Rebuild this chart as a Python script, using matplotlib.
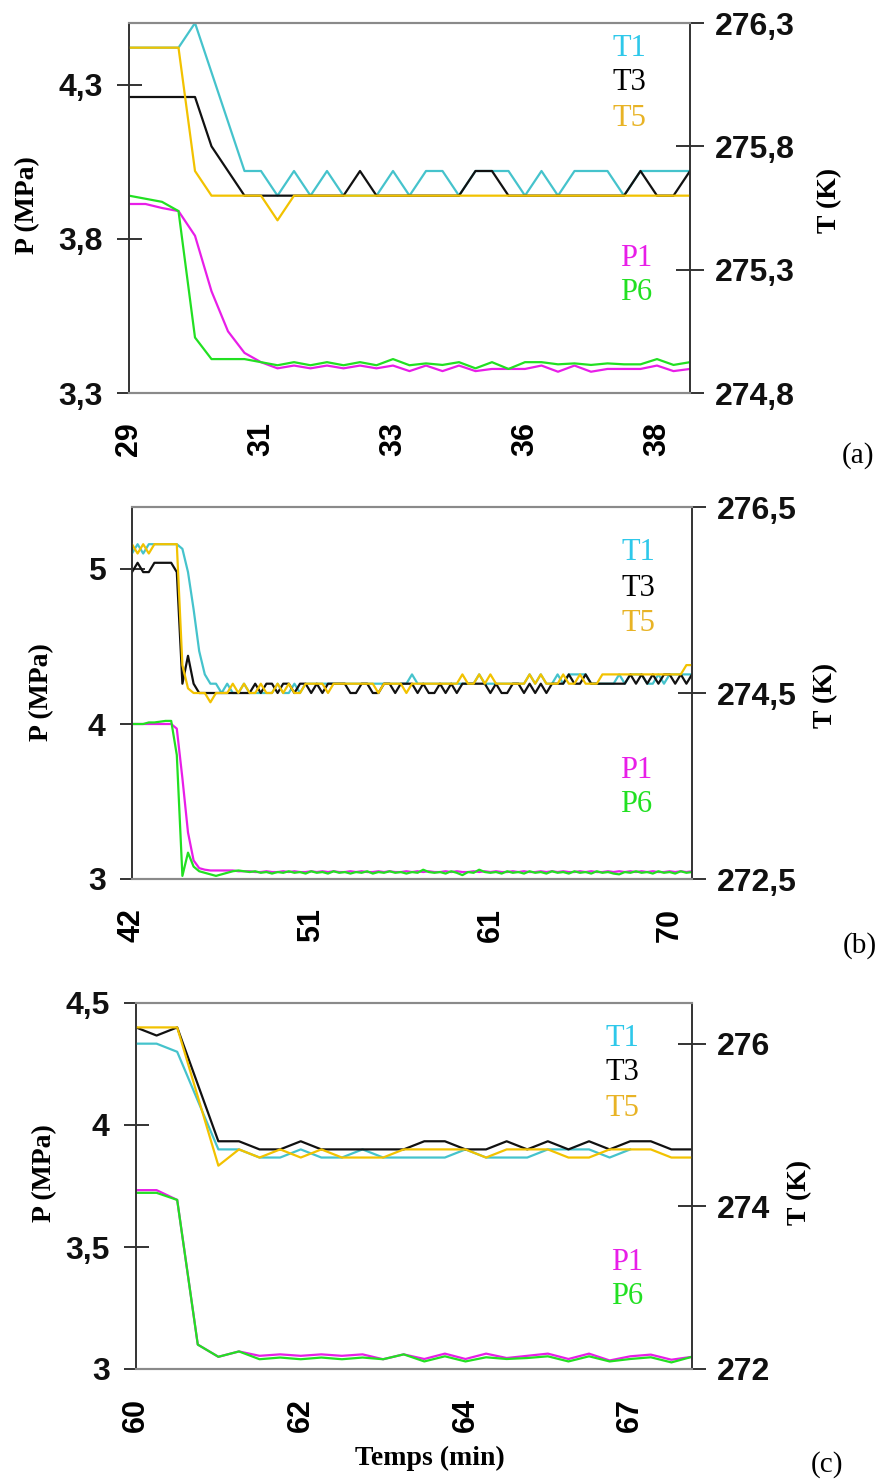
import matplotlib
matplotlib.use('Agg')
import matplotlib.pyplot as plt
from matplotlib.ticker import FuncFormatter

# ---------------- données (a) ----------------
T1_a = [276.2, 276.2, 276.2, 276.2, 276.3, 276.1, 275.9, 275.7, 275.7, 275.6,
        275.7, 275.6, 275.7, 275.6, 275.6, 275.6, 275.7, 275.6, 275.7, 275.7,
        275.6, 275.7, 275.7, 275.7, 275.6, 275.7, 275.6, 275.7, 275.7, 275.7,
        275.6, 275.7, 275.7, 275.7, 275.7]
T3_a = [276.0, 276.0, 276.0, 276.0, 276.0, 275.8, 275.7, 275.6, 275.6, 275.6,
        275.6, 275.6, 275.6, 275.6, 275.7, 275.6, 275.6, 275.6, 275.6, 275.6,
        275.6, 275.7, 275.7, 275.6, 275.6, 275.6, 275.6, 275.6, 275.6, 275.6,
        275.6, 275.7, 275.6, 275.6, 275.7]
T5_a = [276.2, 276.2, 276.2, 276.2, 275.7, 275.6, 275.6, 275.6, 275.6, 275.5,
        275.6, 275.6, 275.6, 275.6, 275.6, 275.6, 275.6, 275.6, 275.6, 275.6,
        275.6, 275.6, 275.6, 275.6, 275.6, 275.6, 275.6, 275.6, 275.6, 275.6,
        275.6, 275.6, 275.6, 275.6, 275.6]
P1_a = [3.913, 3.913, 3.90, 3.89, 3.81, 3.63, 3.50, 3.43, 3.40, 3.38,
        3.389, 3.38, 3.389, 3.38, 3.389, 3.38, 3.389, 3.371, 3.389, 3.371,
        3.389, 3.371, 3.378, 3.378, 3.378, 3.389, 3.369, 3.389, 3.369, 3.378,
        3.378, 3.378, 3.389, 3.371, 3.378]
P6_a = [3.94, 3.93, 3.92, 3.89, 3.48, 3.41, 3.41, 3.41, 3.40, 3.39,
        3.40, 3.39, 3.40, 3.39, 3.40, 3.39, 3.41, 3.39, 3.396, 3.391,
        3.40, 3.38, 3.40, 3.378, 3.40, 3.40, 3.393, 3.396, 3.391, 3.396,
        3.393, 3.393, 3.41, 3.391, 3.40]
xt_a = [0, 8, 16, 24, 32]
xl_a = ['29', '31', '33', '36', '38']

# ---------------- données (b) ----------------
T1_b = [276.0, 276.1, 276.0, 276.1, 276.1, 276.1, 276.1, 276.1, 276.1, 276.05,
        275.8, 275.4, 274.95, 274.7, 274.6, 274.6, 274.5, 274.6, 274.5, 274.5,
        274.6, 274.5, 274.5, 274.5, 274.5, 274.5, 274.6, 274.5, 274.5, 274.6,
        274.5, 274.6, 274.6, 274.6, 274.6, 274.6, 274.6, 274.6, 274.6, 274.6,
        274.6, 274.6, 274.6, 274.6, 274.6, 274.6, 274.6, 274.6, 274.6, 274.6,
        274.7, 274.6, 274.6, 274.6, 274.6, 274.6, 274.6, 274.6, 274.6, 274.6,
        274.6, 274.6, 274.7, 274.6, 274.6, 274.6, 274.6, 274.6, 274.6, 274.6,
        274.6, 274.7, 274.6, 274.7, 274.6, 274.6, 274.7, 274.6, 274.7, 274.7,
        274.7, 274.7, 274.6, 274.6, 274.6, 274.6, 274.6, 274.7, 274.6, 274.7,
        274.7, 274.7, 274.6, 274.6, 274.7, 274.6, 274.7, 274.7, 274.7, 274.7,
        274.7]
T3_b = [275.8, 275.9, 275.8, 275.8, 275.9, 275.9, 275.9, 275.9, 275.8, 274.6,
        274.9, 274.6, 274.5, 274.5, 274.5, 274.5, 274.5, 274.5, 274.5, 274.5,
        274.5, 274.5, 274.6, 274.5, 274.6, 274.6, 274.5, 274.6, 274.6, 274.5,
        274.6, 274.6, 274.5, 274.6, 274.5, 274.6, 274.6, 274.6, 274.6, 274.5,
        274.5, 274.6, 274.6, 274.5, 274.5, 274.6, 274.6, 274.5, 274.6, 274.6,
        274.6, 274.5, 274.6, 274.5, 274.5, 274.6, 274.5, 274.6, 274.5, 274.6,
        274.6, 274.6, 274.6, 274.6, 274.5, 274.6, 274.5, 274.5, 274.6, 274.6,
        274.5, 274.6, 274.5, 274.6, 274.5, 274.6, 274.6, 274.6, 274.7, 274.6,
        274.6, 274.7, 274.6, 274.6, 274.6, 274.6, 274.6, 274.6, 274.6, 274.7,
        274.6, 274.7, 274.6, 274.7, 274.6, 274.7, 274.7, 274.6, 274.7, 274.6,
        274.7]
T5_b = [276.1, 276.0, 276.1, 276.0, 276.1, 276.1, 276.1, 276.1, 276.1, 274.8,
        274.55, 274.5, 274.5, 274.5, 274.4, 274.5, 274.5, 274.5, 274.6, 274.5,
        274.6, 274.5, 274.5, 274.6, 274.5, 274.5, 274.6, 274.5, 274.6, 274.5,
        274.5, 274.6, 274.6, 274.6, 274.6, 274.5, 274.6, 274.6, 274.6, 274.6,
        274.6, 274.6, 274.6, 274.6, 274.5, 274.6, 274.6, 274.6, 274.6, 274.5,
        274.6, 274.6, 274.6, 274.6, 274.6, 274.6, 274.6, 274.6, 274.6, 274.7,
        274.6, 274.6, 274.7, 274.6, 274.7, 274.6, 274.6, 274.6, 274.6, 274.6,
        274.6, 274.7, 274.6, 274.7, 274.6, 274.6, 274.6, 274.7, 274.6, 274.6,
        274.7, 274.6, 274.6, 274.6, 274.7, 274.7, 274.7, 274.7, 274.7, 274.7,
        274.7, 274.7, 274.7, 274.7, 274.7, 274.7, 274.7, 274.7, 274.7, 274.8,
        274.8]
P1_b = [4.00, 4.00, 4.00, 4.00, 4.00, 4.00, 4.00, 4.00, 3.97, 3.65,
        3.30, 3.12, 3.07, 3.06, 3.055, 3.055, 3.055, 3.055, 3.055, 3.05,
        3.05, 3.05, 3.045, 3.045, 3.05, 3.045, 3.045, 3.05, 3.045, 3.05,
        3.045, 3.045, 3.05, 3.045, 3.05, 3.045, 3.05, 3.045, 3.045, 3.05,
        3.045, 3.05, 3.045, 3.045, 3.05, 3.045, 3.05, 3.045, 3.045, 3.05,
        3.045, 3.05, 3.045, 3.05, 3.045, 3.045, 3.05, 3.045, 3.05, 3.045,
        3.045, 3.05, 3.045, 3.05, 3.045, 3.05, 3.045, 3.045, 3.05, 3.045,
        3.05, 3.045, 3.045, 3.05, 3.045, 3.05, 3.045, 3.05, 3.045, 3.045,
        3.05, 3.045, 3.05, 3.045, 3.045, 3.05, 3.045, 3.05, 3.045, 3.05,
        3.045, 3.05, 3.045, 3.05, 3.045, 3.045, 3.05, 3.045, 3.05, 3.045,
        3.05]
P6_b = [4.00, 4.00, 4.00, 4.01, 4.01, 4.015, 4.02, 4.02, 3.80, 3.02,
        3.17, 3.08, 3.05, 3.04, 3.03, 3.02, 3.03, 3.04, 3.05, 3.055,
        3.05, 3.045, 3.05, 3.04, 3.045, 3.035, 3.045, 3.04, 3.05, 3.04,
        3.045, 3.035, 3.05, 3.04, 3.045, 3.035, 3.05, 3.04, 3.045, 3.035,
        3.045, 3.04, 3.05, 3.035, 3.045, 3.04, 3.05, 3.04, 3.045, 3.035,
        3.045, 3.04, 3.06, 3.045, 3.04, 3.045, 3.035, 3.05, 3.04, 3.025,
        3.045, 3.04, 3.06, 3.045, 3.04, 3.045, 3.035, 3.05, 3.04, 3.045,
        3.035, 3.05, 3.04, 3.045, 3.035, 3.05, 3.04, 3.045, 3.035, 3.05,
        3.04, 3.045, 3.035, 3.05, 3.04, 3.045, 3.035, 3.03, 3.045, 3.04,
        3.05, 3.04, 3.045, 3.035, 3.05, 3.04, 3.045, 3.035, 3.05, 3.04,
        3.045]
xt_b = [0, 32, 64, 96]
xl_b = ['42', '51', '61', '70']

# ---------------- données (c) ----------------
T1_c = [276.0, 276.0, 275.9, 275.3, 274.7, 274.7, 274.6, 274.6, 274.7, 274.6,
        274.6, 274.7, 274.6, 274.6, 274.6, 274.6, 274.7, 274.6, 274.6, 274.6,
        274.7, 274.7, 274.7, 274.6, 274.7]
T3_c = [276.2, 276.1, 276.2, 275.5, 274.8, 274.8, 274.7, 274.7, 274.8, 274.7,
        274.7, 274.7, 274.7, 274.7, 274.8, 274.8, 274.7, 274.7, 274.8, 274.7,
        274.8, 274.7, 274.8, 274.7, 274.8, 274.8, 274.7, 274.7]
T5_c = [276.2, 276.2, 276.2, 275.35, 274.5, 274.7, 274.6, 274.7, 274.6, 274.7,
        274.6, 274.6, 274.6, 274.7, 274.7, 274.7, 274.7, 274.6, 274.7, 274.7,
        274.7, 274.6, 274.6, 274.7, 274.7, 274.7, 274.6, 274.6]
P1_c = [3.733, 3.733, 3.693, 3.10, 3.05, 3.072, 3.054, 3.06, 3.054, 3.06,
        3.054, 3.06, 3.04, 3.06, 3.041, 3.063, 3.041, 3.063, 3.045, 3.054,
        3.063, 3.041, 3.063, 3.035, 3.052, 3.059, 3.038, 3.05]
P6_c = [3.722, 3.722, 3.693, 3.10, 3.05, 3.072, 3.04, 3.047, 3.04, 3.047,
        3.04, 3.047, 3.04, 3.06, 3.031, 3.052, 3.031, 3.048, 3.041, 3.045,
        3.052, 3.031, 3.052, 3.031, 3.041, 3.048, 3.027, 3.05]
xt_c = [0, 8, 16, 24]
xl_c = ['60', '62', '64', '67']

# couleurs
c_T1, c_T3, c_T5 = '#45c3cc', '#111111', '#f2c200'
c_P1, c_P6 = '#e81ee8', '#22e022'
tc_T1, tc_T5 = '#2ec8ea', '#e8b325'

W, H = 881, 1483
fig = plt.figure(figsize=(W / 100, H / 100), dpi=100)

NUM = 'Liberation Sans'
SER = 'Liberation Serif'
comma = FuncFormatter(lambda v, p: f'{v:g}'.replace('.', ','))


def rect(l, t, r, b):
    return [l / W, 1 - b / H, (r - l) / W, (b - t) / H]


def put(x, y, s, **kw):
    fig.text(x / W, 1 - y / H, s, **kw)


def panel(box, T1, T3, T5, P1, P6, plim, tlim, pticks, tticks, xt, xl, lab):
    ax = fig.add_axes(rect(*box))
    ax2 = ax.twinx()
    n = max(len(T3), len(P1))
    ax.plot(range(len(P1)), P1, color=c_P1, lw=1.6)
    ax.plot(range(len(P6)), P6, color=c_P6, lw=1.6)
    ax2.plot(range(len(T1)), T1, color=c_T1, lw=1.6)
    ax2.plot(range(len(T3)), T3, color=c_T3, lw=1.6)
    ax2.plot(range(len(T5)), T5, color=c_T5, lw=1.6)
    ax.set_xlim(0, n - 1)
    ax.set_ylim(*plim)
    ax2.set_ylim(*tlim)
    ax.set_yticks(pticks)
    ax2.set_yticks(tticks)
    ax.yaxis.set_major_formatter(comma)
    ax2.yaxis.set_major_formatter(comma)
    ax.set_xticks(xt)
    ax.set_xticklabels(xl, rotation=90, fontfamily=NUM, fontsize=22,
                       fontweight='bold')
    ax.tick_params(axis='x', length=0, pad=21)
    ax.tick_params(axis='y', direction='inout', length=18, width=1.2,
                   pad=10, labelsize=23, colors='#111111')
    ax2.tick_params(axis='y', direction='inout', length=20, width=1.2,
                    pad=8, labelsize=23, colors='#111111')
    for a in (ax, ax2):
        for t in a.get_yticklabels():
            t.set_fontfamily(NUM)
            t.set_fontweight('bold')
        for side in ('top', 'bottom'):
            a.spines[side].set_color('#8a8a8a')
            a.spines[side].set_linewidth(1.5)
        for side in ('left', 'right'):
            a.spines[side].set_color('#333333')
            a.spines[side].set_linewidth(1.2)
    # étiquettes des courbes
    (tx, ty), (px_, py) = lab
    for k, (s, c) in enumerate([('T1', tc_T1), ('T3', 'black'), ('T5', tc_T5)]):
        put(tx, ty + 35 * k, s, color=c, fontfamily=SER, fontsize=22,
            ha='center', va='center')
    for k, (s, c) in enumerate([('P1', c_P1), ('P6', c_P6)]):
        put(px_, py + 34 * k, s, color=c, fontfamily=SER, fontsize=22,
            ha='center', va='center')
    return ax, ax2


panel((129, 23, 690, 393), T1_a, T3_a, T5_a, P1_a, P6_a, (3.3, 4.5), (274.8, 276.3),
      [3.3, 3.8, 4.3], [274.8, 275.3, 275.8, 276.3], xt_a, xl_a,
      ((629, 48), (636, 258)))
panel((132, 507, 692, 879), T1_b, T3_b, T5_b, P1_b, P6_b, (3.0, 5.4), (272.5, 276.5),
      [3, 4, 5], [272.5, 274.5, 276.5], xt_b, xl_b,
      ((638, 553), (636, 771)))
panel((136, 1003, 692, 1369), T1_c, T3_c, T5_c, P1_c, P6_c, (3.0, 4.5), (272.0, 276.5),
      [3, 3.5, 4, 4.5], [272, 274, 276], xt_c, xl_c,
      ((622, 1038), (627, 1262)))

# titres d'axes
lab_kw = dict(fontfamily=SER, fontweight='bold', fontsize=20, rotation=90,
              ha='center', va='center')
put(28, 205, 'P (MPa)', **lab_kw)
put(42, 692, 'P (MPa)', **lab_kw)
put(45, 1173, 'P (MPa)', **lab_kw)
put(830, 200, 'T (K)', **lab_kw)
put(826, 695, 'T (K)', **lab_kw)
put(800, 1192, 'T (K)', **lab_kw)
put(430, 1458, 'Temps (min)', fontfamily=SER, fontweight='bold', fontsize=20,
    ha='center', va='center')

# lettres des sous-figures
put(858, 456, '(a)', fontfamily=SER, fontsize=21, ha='center', va='center')
put(860, 946, '(b)', fontfamily=SER, fontsize=21, ha='center', va='center')
put(827, 1465, '(c)', fontfamily=SER, fontsize=21, ha='center', va='center')

fig.savefig('out.png', dpi=100)
